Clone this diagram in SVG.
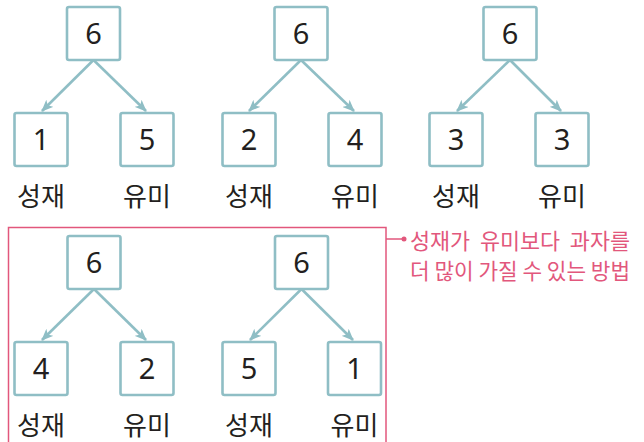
<svg xmlns="http://www.w3.org/2000/svg" width="644" height="442" viewBox="0 0 644 442">
<defs>
<style>
.box{fill:#fff;stroke:#8fbec5;stroke-width:2.6}
.num{font-family:"Noto Sans","DejaVu Sans",sans-serif;font-size:29px;fill:#231f20;text-anchor:middle}
.lbl{font-family:"Noto Sans CJK KR",sans-serif;font-size:26px;fill:#231f20;text-anchor:middle}
.edge{stroke:#8fbec5;stroke-width:2.6;fill:none;marker-end:url(#ah)}
.pink{font-family:"Noto Sans CJK KR",sans-serif;font-size:22px;fill:#e2577c}
</style>
<marker id="ah" viewBox="0 0 12 10" refX="11" refY="5" markerWidth="12" markerHeight="10" markerUnits="userSpaceOnUse" orient="auto">
<path d="M0,0 L12,5 L0,10 L3,5 Z" fill="#8fbec5"/>
</marker>
</defs>
<rect x="8.5" y="227.5" width="377.5" height="220" fill="none" stroke="#e2577c" stroke-width="1.5"/>
<g id="connectors">
<line class="edge" x1="93.5" y1="60" x2="42" y2="111"/>
<line class="edge" x1="93.5" y1="60" x2="146" y2="111"/>
<line class="edge" x1="301" y1="60" x2="249" y2="111"/>
<line class="edge" x1="301" y1="60" x2="354" y2="111"/>
<line class="edge" x1="510" y1="60" x2="457" y2="111"/>
<line class="edge" x1="510" y1="60" x2="561" y2="111"/>
<line class="edge" x1="94" y1="289" x2="42" y2="340"/>
<line class="edge" x1="94" y1="289" x2="146" y2="340"/>
<line class="edge" x1="301.5" y1="289" x2="250" y2="340"/>
<line class="edge" x1="301.5" y1="289" x2="353" y2="340"/>
<line x1="386" y1="239" x2="404" y2="239" stroke="#e2577c" stroke-width="1.5"/>
<circle cx="404" cy="239" r="2.5" fill="#e2577c"/>
</g>
<g id="t1top"><rect class="box" x="67" y="7" width="53" height="53" rx="2"/><text class="num" x="93.5" y="44">6</text></g>
<g id="t1l"><rect class="box" x="14.5" y="113" width="53" height="53" rx="2"/><text class="num" x="41" y="150">1</text><text class="lbl" x="41" y="206">성재</text></g>
<g id="t1r"><rect class="box" x="120.5" y="113" width="53" height="53" rx="2"/><text class="num" x="147" y="150">5</text><text class="lbl" x="147" y="206">유미</text></g>
<g id="t2top"><rect class="box" x="274.5" y="7" width="53" height="53" rx="2"/><text class="num" x="301" y="44">6</text></g>
<g id="t2l"><rect class="box" x="222.5" y="113" width="53" height="53" rx="2"/><text class="num" x="249" y="150">2</text><text class="lbl" x="249" y="206">성재</text></g>
<g id="t2r"><rect class="box" x="328.5" y="113" width="53" height="53" rx="2"/><text class="num" x="355" y="150">4</text><text class="lbl" x="355" y="206">유미</text></g>
<g id="t3top"><rect class="box" x="483.5" y="7" width="53" height="53" rx="2"/><text class="num" x="510" y="44">6</text></g>
<g id="t3l"><rect class="box" x="429.5" y="113" width="53" height="53" rx="2"/><text class="num" x="456" y="150">3</text><text class="lbl" x="456" y="206">성재</text></g>
<g id="t3r"><rect class="box" x="535.5" y="113" width="53" height="53" rx="2"/><text class="num" x="562" y="150">3</text><text class="lbl" x="562" y="206">유미</text></g>
<g id="t4top"><rect class="box" x="67.5" y="236" width="53" height="53" rx="2"/><text class="num" x="94" y="273">6</text></g>
<g id="t4l"><rect class="box" x="14.5" y="342" width="53" height="53" rx="2"/><text class="num" x="41" y="379">4</text><text class="lbl" x="41" y="435">성재</text></g>
<g id="t4r"><rect class="box" x="120.5" y="342" width="53" height="53" rx="2"/><text class="num" x="147" y="379">2</text><text class="lbl" x="147" y="435">유미</text></g>
<g id="t5top"><rect class="box" x="275" y="236" width="53" height="53" rx="2"/><text class="num" x="301.5" y="273">6</text></g>
<g id="t5l"><rect class="box" x="222.5" y="342" width="53" height="53" rx="2"/><text class="num" x="249" y="379">5</text><text class="lbl" x="249" y="435">성재</text></g>
<g id="t5r"><rect class="box" x="328" y="342" width="53" height="53" rx="2"/><text class="num" x="354.5" y="379">1</text><text class="lbl" x="354.5" y="435">유미</text></g>
<g id="note">
<text class="pink" x="410" y="249" xml:space="preserve" textLength="220" lengthAdjust="spacingAndGlyphs">성재가  유미보다  과자를</text>
<text class="pink" x="410" y="279" textLength="220" lengthAdjust="spacingAndGlyphs">더 많이 가질 수 있는 방법</text>
</g>
</svg>
